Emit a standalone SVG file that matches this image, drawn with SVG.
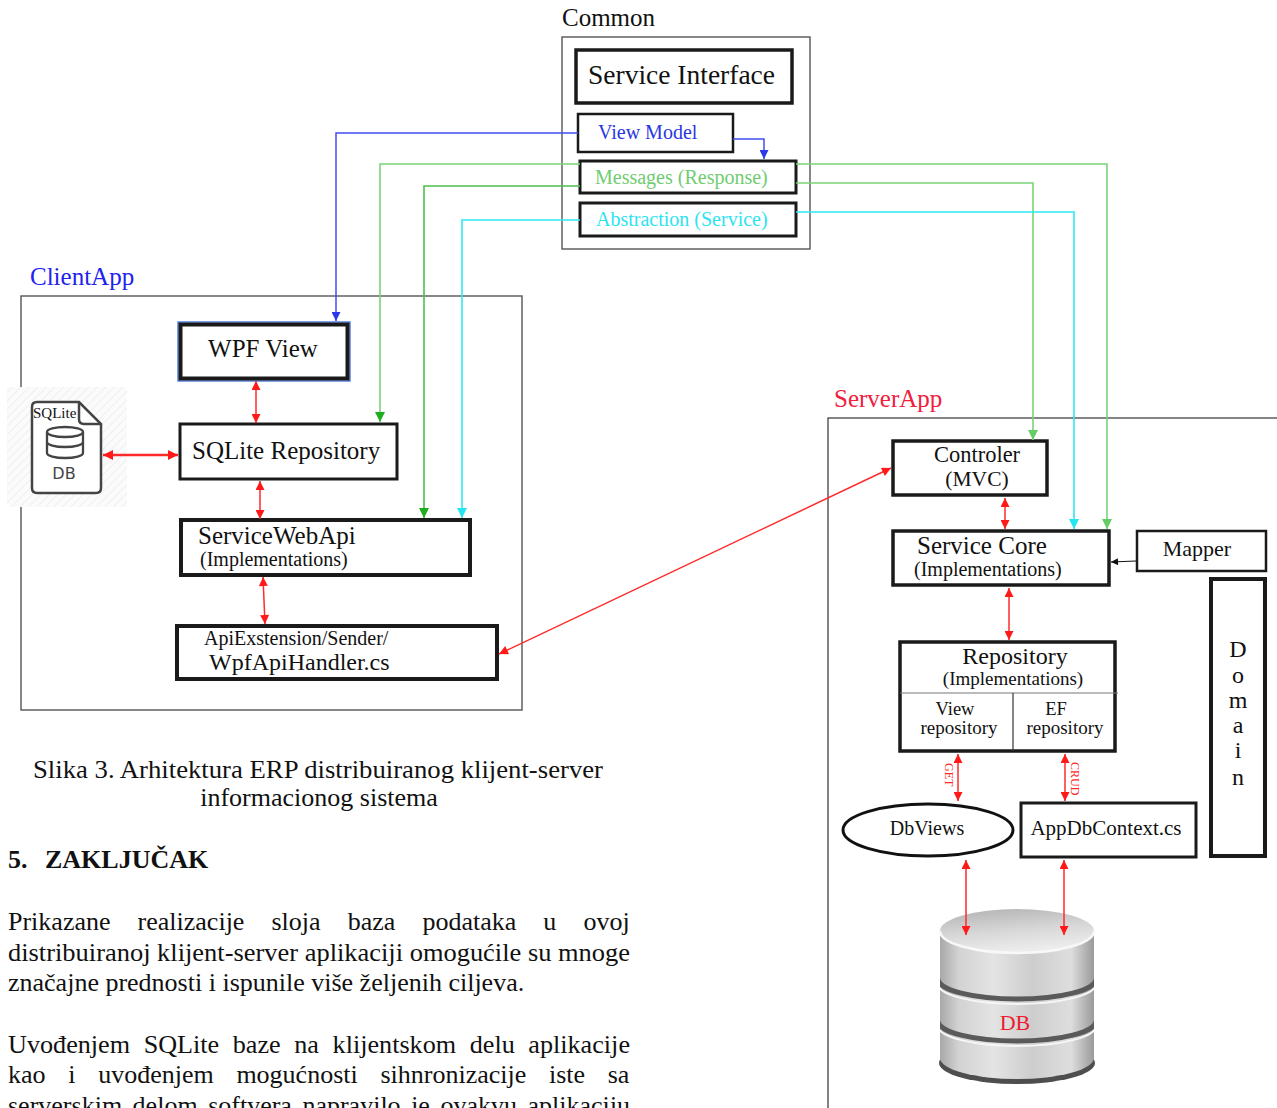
<svg xmlns="http://www.w3.org/2000/svg" width="1277" height="1108" viewBox="0 0 1277 1108">
  <defs>
    <style>
      text { font-family: "Liberation Serif", "Times New Roman", serif; fill: #111; }
      .ctr { text-anchor: middle; }
      .box { fill: #fff; stroke: #1a1a1a; stroke-width: 3; }
      .frame { fill: none; stroke: #555; stroke-width: 1.4; }
      .red { fill: none; stroke: #ff2a2a; stroke-width: 1.5; marker-start: url(#ah-red); marker-end: url(#ah-red); }
      .blue { fill: none; stroke: #3f4ff0; stroke-width: 1.5; }
      .green { fill: none; stroke: #78d478; stroke-width: 1.6; }
      .green2 { fill: none; stroke: #4cc04c; stroke-width: 1.6; }
      .cyan { fill: none; stroke: #30e8f4; stroke-width: 1.6; }
      .body { font-size: 26px; }
    </style>
    <marker id="ah-red" viewBox="0 0 10 10" refX="10" refY="5" markerWidth="10" markerHeight="9" markerUnits="userSpaceOnUse" orient="auto-start-reverse">
      <path d="M0,0 L10,5 L0,10 z" fill="#ff1a1a"/>
    </marker>
    <marker id="ah-red-big" viewBox="0 0 10 10" refX="10" refY="5" markerWidth="12" markerHeight="10" markerUnits="userSpaceOnUse" orient="auto-start-reverse">
      <path d="M0,0 L10,5 L0,10 z" fill="#ff1a1a"/>
    </marker>
    <marker id="ah-blue" viewBox="0 0 10 10" refX="10" refY="5" markerWidth="10" markerHeight="9" markerUnits="userSpaceOnUse" orient="auto">
      <path d="M0,0 L10,5 L0,10 z" fill="#2a3ae8"/>
    </marker>
    <marker id="ah-green" viewBox="0 0 10 10" refX="10" refY="5" markerWidth="10" markerHeight="10" markerUnits="userSpaceOnUse" orient="auto">
      <path d="M0,0 L10,5 L0,10 z" fill="#66cc66"/>
    </marker>
    <marker id="ah-green2" viewBox="0 0 10 10" refX="10" refY="5" markerWidth="10" markerHeight="10" markerUnits="userSpaceOnUse" orient="auto">
      <path d="M0,0 L10,5 L0,10 z" fill="#1fae1f"/>
    </marker>
    <marker id="ah-cyan" viewBox="0 0 10 10" refX="10" refY="5" markerWidth="10" markerHeight="10" markerUnits="userSpaceOnUse" orient="auto">
      <path d="M0,0 L10,5 L0,10 z" fill="#22e6f2"/>
    </marker>
    <marker id="ah-black" viewBox="0 0 10 10" refX="10" refY="5" markerWidth="8" markerHeight="7" markerUnits="userSpaceOnUse" orient="auto">
      <path d="M0,0 L10,5 L0,10 z" fill="#111"/>
    </marker>
    <pattern id="hatch" width="6" height="6" patternUnits="userSpaceOnUse" patternTransform="rotate(45)">
      <rect width="6" height="6" fill="#fbfbfb"/>
      <line x1="0" y1="0" x2="0" y2="6" stroke="#efefef" stroke-width="2"/>
    </pattern>
    <linearGradient id="cyl-body" x1="0" y1="0" x2="1" y2="0">
      <stop offset="0" stop-color="#a8a8a8"/>
      <stop offset="0.12" stop-color="#d2d2d2"/>
      <stop offset="0.35" stop-color="#e4e4e4"/>
      <stop offset="0.6" stop-color="#cdcdcd"/>
      <stop offset="0.85" stop-color="#dedede"/>
      <stop offset="1" stop-color="#9a9a9a"/>
    </linearGradient>
    <linearGradient id="cyl-top" x1="0" y1="0" x2="0.3" y2="1">
      <stop offset="0" stop-color="#b0b0b0"/>
      <stop offset="0.55" stop-color="#d6d6d6"/>
      <stop offset="1" stop-color="#ececec"/>
    </linearGradient>
    <clipPath id="cyl-clip">
      <path d="M940,925 V1060 A77,21 0 0 0 1094,1060 V925 Z"/>
    </clipPath>
  </defs>

  <rect width="1277" height="1108" fill="#fff"/>

  <!-- Containers -->
  <g id="common">
    <text x="562" y="26" font-size="25">Common</text>
    <rect class="frame" x="562" y="37" width="248" height="212"/>
  </g>
  <g id="client-app">
    <text x="30" y="285" font-size="25" style="fill:#2222ee">ClientApp</text>
    <rect class="frame" x="21" y="296" width="501" height="414"/>
  </g>
  <g id="server-app">
    <text x="834" y="407" font-size="25" style="fill:#f0203c">ServerApp</text>
    <rect class="frame" x="828" y="418" width="470" height="700" style="stroke:#333;stroke-width:1.2"/>
  </g>

  <!-- Common nodes -->
  <g id="service-interface">
    <rect class="box" x="576" y="50" width="216" height="53" style="stroke-width:3.5"/>
    <text x="588" y="84" font-size="27.5">Service Interface</text>
  </g>
  <g id="view-model">
    <rect class="box" x="578" y="114" width="155" height="38" style="stroke-width:2.5"/>
    <text x="598" y="139" font-size="20" style="fill:#2a36e0">View Model</text>
  </g>
  <g id="messages">
    <rect class="box" x="580" y="161" width="216" height="32"/>
    <text x="595" y="184" font-size="20" style="fill:#6fcd6f">Messages (Response)</text>
  </g>
  <g id="abstraction">
    <rect class="box" x="580" y="203" width="216" height="33"/>
    <text x="596" y="226" font-size="20" style="fill:#2ee3f0">Abstraction (Service)</text>
  </g>

  <!-- Client nodes -->
  <g id="wpf-view">
    <rect x="178" y="322" width="172" height="59" fill="none" stroke="#3b6fe0" stroke-width="1.3"/>
    <rect class="box" x="180.5" y="324.5" width="167" height="54" style="stroke-width:4"/>
    <text class="ctr" x="263" y="357" font-size="25">WPF View</text>
  </g>
  <g id="sqlite-file">
    <rect x="7" y="387" width="120" height="120" fill="url(#hatch)"/>
    <path d="M37,402 H79 L101,424 V488 Q101,493 96,493 H37 Q32,493 32,488 V407 Q32,402 37,402 Z" fill="#fff" stroke="#444" stroke-width="2.5"/>
    <path d="M79,402 V419 Q79,424 84,424 H101" fill="none" stroke="#444" stroke-width="2.5"/>
    <text x="33" y="418" font-size="15">SQLite</text>
    <g fill="none" stroke="#444" stroke-width="2.3">
      <ellipse cx="65" cy="432" rx="18" ry="5"/>
      <path d="M47,432 V453 A18,5 0 0 0 83,453 V432"/>
      <path d="M47,442 A18,5 0 0 0 83,442"/>
    </g>
    <text class="ctr" x="64" y="479" font-size="16" style="font-family:'DejaVu Sans','Liberation Sans',sans-serif;fill:#444">DB</text>
  </g>
  <g id="sqlite-repository">
    <rect class="box" x="180" y="424" width="217" height="55"/>
    <text x="192" y="459" font-size="25">SQLite Repository</text>
  </g>
  <g id="service-webapi">
    <rect class="box" x="181" y="520" width="289" height="55" style="stroke-width:4"/>
    <text x="198" y="544" font-size="25">ServiceWebApi</text>
    <text x="200" y="566" font-size="20">(Implementations)</text>
  </g>
  <g id="api-handler">
    <rect class="box" x="177" y="626" width="320" height="53" style="stroke-width:4"/>
    <text x="204" y="645" font-size="20">ApiExstension/Sender/</text>
    <text x="209" y="670" font-size="24">WpfApiHandler.cs</text>
  </g>

  <!-- Server nodes -->
  <g id="controler">
    <rect class="box" x="893" y="441" width="154" height="54" style="stroke-width:3.5"/>
    <text class="ctr" x="977" y="462" font-size="22.5">Controler</text>
    <text class="ctr" x="977" y="486" font-size="21.5">(MVC)</text>
  </g>
  <g id="service-core">
    <rect class="box" x="893" y="531" width="216" height="54" style="stroke-width:3.5"/>
    <text x="917" y="554" font-size="25">Service Core</text>
    <text x="914" y="576" font-size="20">(Implementations)</text>
  </g>
  <g id="mapper">
    <rect class="box" x="1137" y="531" width="129" height="40" style="stroke-width:2.5"/>
    <text class="ctr" x="1197" y="556" font-size="22">Mapper</text>
  </g>
  <g id="domain">
    <rect class="box" x="1211" y="579" width="54" height="277" style="stroke-width:4"/>
    <g font-size="24">
      <text class="ctr" x="1238" y="657">D</text>
      <text class="ctr" x="1238" y="683">o</text>
      <text class="ctr" x="1238" y="708">m</text>
      <text class="ctr" x="1238" y="733">a</text>
      <text class="ctr" x="1238" y="758">i</text>
      <text class="ctr" x="1238" y="785">n</text>
    </g>
  </g>
  <g id="repository">
    <rect class="box" x="900" y="642" width="215" height="109" style="stroke-width:3.5"/>
    <line x1="900" y1="693" x2="1118" y2="693" stroke="#777" stroke-width="1"/>
    <line x1="1013" y1="693" x2="1013" y2="751" stroke="#333" stroke-width="1.2"/>
    <text class="ctr" x="1015" y="664" font-size="24">Repository</text>
    <text class="ctr" x="1013" y="685" font-size="19">(Implementations)</text>
    <text class="ctr" x="955" y="715" font-size="18.5">View</text>
    <text class="ctr" x="959" y="734" font-size="19">repository</text>
    <text class="ctr" x="1056" y="715" font-size="18.5">EF</text>
    <text class="ctr" x="1065" y="734" font-size="19">repository</text>
  </g>
  <g id="dbviews">
    <ellipse cx="928" cy="830" rx="85" ry="26" fill="#fff" stroke="#111" stroke-width="3"/>
    <text class="ctr" x="927" y="835" font-size="20">DbViews</text>
  </g>
  <g id="appdbcontext">
    <rect class="box" x="1021" y="803" width="175" height="54"/>
    <text class="ctr" x="1106" y="835" font-size="21">AppDbContext.cs</text>
  </g>
  <g id="db">
    <ellipse cx="1017" cy="1063" rx="78" ry="21" fill="#4e4e4e"/>
    <path d="M940,931 V1058 A77,21 0 0 0 1094,1058 V931 Z" fill="url(#cyl-body)"/>
    <g clip-path="url(#cyl-clip)" fill="none">
      <path d="M938,979 A79,20 0 0 0 1096,979" stroke="#5a5a5a" stroke-width="5"/>
      <path d="M938,984 A79,20 0 0 0 1096,984" stroke="#f6f6f6" stroke-width="2"/>
      <path d="M938,1021 A79,20 0 0 0 1096,1021" stroke="#5a5a5a" stroke-width="5"/>
      <path d="M938,1026 A79,20 0 0 0 1096,1026" stroke="#f6f6f6" stroke-width="2"/>
    </g>
    <ellipse cx="1017" cy="931" rx="77" ry="22" fill="url(#cyl-top)"/>
    <path d="M940,931 A77,22 0 0 0 1094,931" fill="none" stroke="#f8f8f8" stroke-width="2.5"/>
    <text class="ctr" x="1015" y="1030" font-size="22" style="fill:#ee1c2e">DB</text>
  </g>

  <!-- Connectors -->
  <g id="connectors">
    <path class="blue" d="M733,139 H764 V159" marker-end="url(#ah-blue)"/>
    <path class="blue" d="M578,133 H336 V321" marker-end="url(#ah-blue)"/>
    <path class="green" d="M580,164 H380 V422" marker-end="url(#ah-green2)"/>
    <path class="green2" d="M580,186 H424 V518" marker-end="url(#ah-green2)"/>
    <path class="cyan" d="M580,220 H462 V518" marker-end="url(#ah-cyan)"/>
    <path class="green" d="M796,164 H1107 V529" marker-end="url(#ah-green)"/>
    <path class="green" d="M796,183 H1033 V440" marker-end="url(#ah-green)"/>
    <path class="cyan" d="M796,212 H1074 V529" marker-end="url(#ah-cyan)"/>

    <line class="red" x1="256" y1="381" x2="256" y2="423"/>
    <line class="red" x1="103" y1="455" x2="178" y2="455" style="stroke-width:2.5;marker-start:url(#ah-red-big);marker-end:url(#ah-red-big)"/>
    <line class="red" x1="260" y1="481" x2="260" y2="519"/>
    <line class="red" x1="263" y1="577" x2="265" y2="624"/>
    <line class="red" x1="499" y1="654" x2="891" y2="468"/>
    <line class="red" x1="1005" y1="498" x2="1005" y2="529"/>
    <line class="red" x1="1009" y1="588" x2="1009" y2="640"/>
    <line class="red" x1="958" y1="754" x2="958" y2="801"/>
    <line class="red" x1="1065" y1="754" x2="1065" y2="801"/>
    <line class="red" x1="966" y1="860" x2="966" y2="935"/>
    <line class="red" x1="1064" y1="860" x2="1064" y2="935"/>
    <line x1="1136" y1="561" x2="1111" y2="562" stroke="#111" stroke-width="1.2" marker-end="url(#ah-black)"/>

    <text transform="translate(945,763) rotate(90)" font-size="12" style="fill:#ff2a2a">GET</text>
    <text transform="translate(1071,762) rotate(90)" font-size="12" style="fill:#ff2a2a">CRUD</text>
  </g>

  <!-- Caption and body text -->
  <g id="caption">
    <text class="ctr" x="318" y="778" font-size="26" textLength="570" lengthAdjust="spacingAndGlyphs">Slika 3. Arhitektura ERP distribuiranog klijent-server</text>
    <text class="ctr" x="319" y="806" font-size="26">informacionog sistema</text>
  </g>
  <g id="conclusion">
    <text x="8" y="868" font-size="26" font-weight="bold">5.</text>
    <text x="45" y="868" font-size="26" font-weight="bold">ZAKLJUČAK</text>
    <text class="body" x="8" y="930" word-spacing="20.6">Prikazane realizacije sloja baza podataka u ovoj</text>
    <text class="body" x="8" y="961" textLength="622" lengthAdjust="spacingAndGlyphs">distribuiranoj klijent-server aplikaciji omogućile su mnoge</text>
    <text class="body" x="8" y="991">značajne prednosti i ispunile više željenih ciljeva.</text>
    <text class="body" x="8" y="1053" textLength="622" lengthAdjust="spacingAndGlyphs" word-spacing="7">Uvođenjem SQLite baze na klijentskom delu aplikacije</text>
    <text class="body" x="8" y="1083" word-spacing="16.2">kao i uvođenjem mogućnosti sihnronizacije iste sa</text>
    <text class="body" x="8" y="1114" textLength="622" lengthAdjust="spacingAndGlyphs" word-spacing="4">serverskim delom softvera napravilo je ovakvu aplikaciju</text>
  </g>
</svg>
